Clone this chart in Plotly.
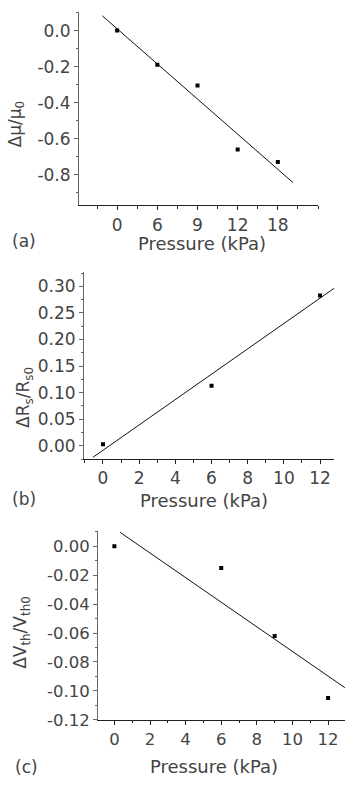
import plotly.graph_objects as go

W, H = 347, 787

# ---------------- Panel (a) ----------------
a_labels = ["0", "6", "9", "12", "18"]
a_index = [0, 1, 2, 3, 4]
a_values = [0.0, -0.19, -0.305, -0.66, -0.73]
a_fit_x = [-0.37, 4.38]
a_fit_y = [0.082, -0.844]
a_yticks = [0.0, -0.2, -0.4, -0.6, -0.8]
a_yticktext = ["0.0", "-0.2", "-0.4", "-0.6", "-0.8"]
a_xminor = [-0.5, 0.5, 1.5, 2.5, 3.5, 4.5, 5.0]

# ---------------- Panel (b) ----------------
b_pressure = [0, 6, 12]
b_values = [0.003, 0.113, 0.283]
b_fit_x = [-0.55, 12.8]
b_fit_y = [-0.0215, 0.297]
b_xticks = [0, 2, 4, 6, 8, 10, 12]
b_yticks = [0.0, 0.05, 0.10, 0.15, 0.20, 0.25, 0.30]
b_yticktext = ["0.00", "0.05", "0.10", "0.15", "0.20", "0.25", "0.30"]

# ---------------- Panel (c) ----------------
c_pressure = [0, 6, 9, 12]
c_values = [0.0, -0.015, -0.062, -0.105]
c_fit_x = [0.32, 12.94]
c_fit_y = [0.0097, -0.0978]
c_xticks = [0, 2, 4, 6, 8, 10, 12]
c_yticks = [0.0, -0.02, -0.04, -0.06, -0.08, -0.10, -0.12]
c_yticktext = ["0.00", "-0.02", "-0.04", "-0.06", "-0.08", "-0.10", "-0.12"]

FONT = "DejaVu Sans"
TXT = "#444444"
AXX = "#222222"
AXY = "#666666"


def dom_x(l, r):
    return [l / W, r / W]


def dom_y(t, b):
    return [1 - b / H, 1 - t / H]


fig = go.Figure()

for xs, ys, fx, fy, xa, ya in [
    (a_index, a_values, a_fit_x, a_fit_y, "x", "y"),
    (b_pressure, b_values, b_fit_x, b_fit_y, "x2", "y2"),
    (c_pressure, c_values, c_fit_x, c_fit_y, "x3", "y3"),
]:
    fig.add_trace(go.Scatter(x=fx, y=fy, mode="lines",
                             line=dict(color="#111", width=1),
                             xaxis=xa, yaxis=ya, showlegend=False))
    fig.add_trace(go.Scatter(x=xs, y=ys, mode="markers",
                             marker=dict(symbol="square", size=4, color="#000"),
                             xaxis=xa, yaxis=ya, showlegend=False))

tickfont_a = dict(family=FONT, size=17, color=TXT)
tickfont_b = dict(family=FONT, size=17, color=TXT)
tickfont_c = dict(family=FONT, size=16.5, color=TXT)


def axx(**kw):
    d = dict(showgrid=False, zeroline=False, showline=True, linecolor=AXX,
             linewidth=1, ticks="outside", ticklen=4, tickcolor=AXX, mirror=False)
    d.update(kw)
    return d


def axy(**kw):
    d = dict(showgrid=False, zeroline=False, showline=True, linecolor=AXY,
             linewidth=1, ticks="outside", ticklen=4, tickcolor=AXY, mirror=False)
    d.update(kw)
    return d


fig.update_layout(
    width=W, height=H,
    margin=dict(l=0, r=0, t=0, b=0),
    paper_bgcolor="white", plot_bgcolor="white",
    showlegend=False,
    # (a)
    xaxis=axx(domain=dom_x(79, 318), anchor="y", range=[-0.95, 5.0],
              tickmode="array", tickvals=a_index, ticktext=a_labels,
              tickfont=tickfont_a,
              minor=dict(tickmode="array", tickvals=a_xminor, ticks="outside",
                         ticklen=2.5, tickcolor=AXX)),
    yaxis=axy(domain=dom_y(12, 208), anchor="x", range=[-0.97, 0.104],
              tickmode="array", tickvals=a_yticks, ticktext=a_yticktext,
              tickfont=tickfont_a,
              minor=dict(tickmode="linear", tick0=0.1, dtick=0.2, ticks="outside",
                         ticklen=2.5, tickcolor=AXY)),
    # (b)
    xaxis2=axx(domain=dom_x(84, 334), anchor="y2", range=[-1.05, 12.77],
               tickmode="array", tickvals=b_xticks,
               ticktext=[str(v) for v in b_xticks], tickfont=tickfont_b,
               minor=dict(tickmode="linear", tick0=-1, dtick=2, ticks="outside",
                          ticklen=2.5, tickcolor=AXX)),
    yaxis2=axy(domain=dom_y(275, 465), anchor="x2", range=[-0.025, 0.328],
               tickmode="array", tickvals=b_yticks, ticktext=b_yticktext,
               tickfont=tickfont_b,
               minor=dict(tickmode="linear", tick0=0.025, dtick=0.05, ticks="outside",
                          ticklen=2.5, tickcolor=AXY)),
    # (c)
    xaxis3=axx(domain=dom_x(98, 345), anchor="y3", range=[-0.92, 12.95],
               tickmode="array", tickvals=c_xticks,
               ticktext=[str(v) for v in c_xticks], tickfont=tickfont_c,
               minor=dict(tickmode="linear", tick0=-1, dtick=2, ticks="outside",
                          ticklen=2.5, tickcolor=AXX)),
    yaxis3=axy(domain=dom_y(538, 729), anchor="x3", range=[-0.12, 0.0105],
               tickmode="array", tickvals=c_yticks, ticktext=c_yticktext,
               tickfont=tickfont_c,
               minor=dict(tickmode="linear", tick0=-0.11, dtick=0.02, ticks="outside",
                          ticklen=2.5, tickcolor=AXY)),
)


def ann(text, px, py, angle=0, size=17):
    fig.add_annotation(text=text, x=px / W, y=1 - py / H, xref="paper", yref="paper",
                       xanchor="center", yanchor="middle", showarrow=False,
                       textangle=angle,
                       font=dict(family=FONT, size=size, color=TXT))


# x-axis titles
ann("Pressure (kPa)", 202, 247, size=18)
ann("Pressure (kPa)", 204, 507, size=18)
ann("Pressure (kPa)", 214, 776, size=18)
# panel labels
ann("(a)", 24, 244)
ann("(b)", 24, 505)
ann("(c)", 26, 777)
# y-axis titles
ann("Δμ/μ<sub>0</sub>", 16, 125, angle=-90)
ann("ΔR<sub>s</sub>/R<sub>s0</sub>", 25, 403, angle=-90)
ann("ΔV<sub>th</sub>/V<sub>th0</sub>", 22, 641, angle=-90)

fig.write_html("out.html")
